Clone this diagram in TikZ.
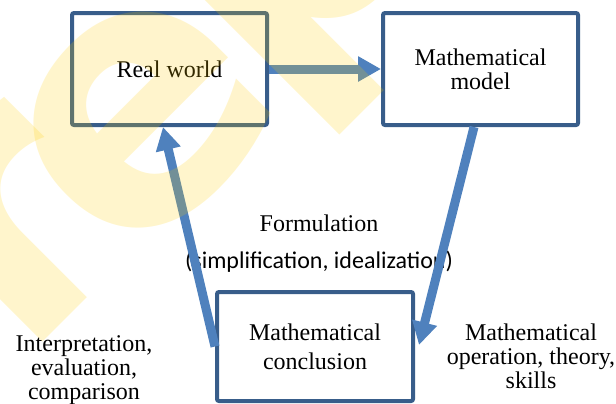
\documentclass[tikz,border=0pt]{standalone}
\usepackage{fontspec}
\setmainfont{Liberation Serif}
\newfontfamily\calibrifont{Carlito}
\newfontfamily\markfont{DejaVu Sans}
\usepackage{xcolor}
\definecolor{BoxBlue}{HTML}{385D8A}
\definecolor{ArrowBlue}{HTML}{4F81BD}
\definecolor{MarkYellow}{HTML}{FFCC00}
\usetikzlibrary{positioning,arrows.meta}

\begin{document}
\begin{tikzpicture}[x=0.5pt,y=-0.5pt,
    stage/.style={draw=BoxBlue,line width=2pt,rounded corners=1pt,fill=white,minimum width=97.5pt,minimum height=56pt,inner sep=0pt,align=center,font=\fontsize{12}{12}\selectfont},
    flow/.style={draw=ArrowBlue,line width=4.5pt,-{Triangle[length=11.5pt,width=12pt]}},
    note/.style={inner sep=0pt,align=center,font=\fontsize{12}{12}\selectfont},
    wmletter/.style={rotate=45,anchor=base west,inner sep=0pt,text=MarkYellow,text opacity=0.2,font=\markfont\bfseries\fontsize{180}{180}\selectfont}]
    \useasboundingbox (0,0) rectangle (616,403);

    \node[stage] (rw) at (169.5,69) {Real world};
    \node[stage,right=56pt of rw] (mm) {Mathematical\\model};
    \node[stage,minimum width=98pt,minimum height=54.5pt,font=\fontsize{12}{14.5}\selectfont] (mc) at (315,346.5) {Mathematical\\conclusion};

    \node[note] (form) at (319,223) {Formulation};
    \node[note,font=\calibrifont\fontsize{12}{14}\selectfont] (simp) at (319,262) {(simplification, idealization)};
    \node[note] (interp) at (84,370) {Interpretation,\\evaluation,\\comparison};
    \node[note] (oper) at (531,356) {Mathematical\\operation, theory,\\skills};

    \draw[flow] (rw) -- (mm);
    \draw[flow] ([xshift=-3.25pt]mm.south) -- ([xshift=2pt,yshift=0.75pt]mc.east);
    \draw[flow] (mc.west) -- ([xshift=-3.25pt]rw.south);

    % watermark
    \begin{scope}
      \clip (0,0) rectangle (616,403);
      \node[wmletter] (wr) at (21,364) {r};
      \node[wmletter] (we) at (125,276) {e};
      \node[wmletter] (wp) at (265.5,103.5) {p};
    \end{scope}
  \end{tikzpicture}
\end{document}
